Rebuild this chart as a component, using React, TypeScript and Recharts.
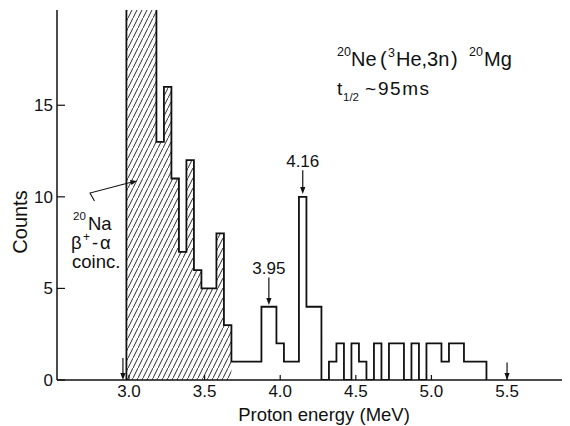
import { ComposedChart, Line, Area, XAxis, YAxis, ReferenceLine } from 'recharts';

const FONT = '"Liberation Sans", Arial, Helvetica, sans-serif';
const INK = '#111';

// histogram bins (MeV)
const binStart = 2.983;
const binWidth = 0.0496;

// counts per bin; the first four run off the top of the frame
const counts = [
  25, 25, 25, 25, 13, 16, 11, 7, 12, 6, 5, 5, 8, 3,
  1, 1, 1, 1, 4, 4, 2, 1, 1, 10, 4, 4, 0, 1, 2, 0,
  2, 1, 0, 2, 0, 2, 2, 0, 2, 0, 2, 2, 1, 2, 2, 1, 1, 1,
];
// leading bins that are 20Na beta+-alpha coincidences (hatched)
const hatchedBins = 14;

const xTicks = [3.0, 3.5, 4.0, 4.5, 5.0, 5.5];
const yTicks = [0, 5, 10, 15];

// peak markers: label, energy, arrow top and tip (counts)
const peakLabels = ['3.95', '4.16'];
const peakEnergy = [3.925, 4.149];
const peakArrowTop = [5.6, 11.45];
const peakArrowTip = [4.1, 10.15];

// range markers on the energy axis
const limitEnergy = [2.96, 5.5];
const limitArrowTop = [1.2, 0.95];

function buildRows() {
  const rows: Array<{ e: number; total: number; hatch: number | null }> = [
    { e: binStart, total: 0, hatch: 0 },
  ];
  counts.forEach((c, i) => {
    rows.push({
      e: binStart + i * binWidth,
      total: c,
      hatch: i < hatchedBins ? c : i === hatchedBins ? 0 : null,
    });
  });
  rows.push({ e: binStart + counts.length * binWidth, total: 0, hatch: null });
  return rows;
}

const rows = buildRows();

const ArrowShape = ({ x1, y1, x2, y2, text }: any) => {
  const dx = x2 - x1;
  const dy = y2 - y1;
  const len = Math.hypot(dx, dy) || 1;
  const ux = dx / len;
  const uy = dy / len;
  const hl = 7;
  const hw = 2.6;
  const bx = x2 - ux * hl;
  const by = y2 - uy * hl;
  const px = -uy * hw;
  const py = ux * hw;
  return (
    <g>
      <line x1={x1} y1={y1} x2={bx} y2={by} stroke={INK} strokeWidth={1.2} />
      <polygon points={`${x2},${y2} ${bx + px},${by + py} ${bx - px},${by - py}`} fill={INK} />
      {text && (
        <text x={x1} y={y1 - 3} textAnchor="middle" fontSize={17} fontFamily={FONT} fill={INK}>
          {text}
        </text>
      )}
    </g>
  );
};

export default function App() {
  return (
    <div style={{ position: 'relative', width: 562, height: 418, fontFamily: FONT }}>
      <ComposedChart
        width={562}
        height={418}
        data={rows}
        margin={{ top: 2, right: 2, bottom: 16, left: 0 }}
      >
        <defs>
          <pattern id="hatch" patternUnits="userSpaceOnUse" width="5" height="10">
            <path d="M-0.5,11 L5.5,-1" stroke={INK} strokeWidth={0.9} />
          </pattern>
        </defs>
        <XAxis
          dataKey="e"
          type="number"
          domain={[2.524, 5.903]}
          allowDataOverflow
          ticks={xTicks}
          interval={0}
          tickFormatter={(v: number) => v.toFixed(1)}
          tickSize={-5}
          tickMargin={10}
          height={30}
          axisLine={{ stroke: INK, strokeWidth: 1.5 }}
          tickLine={{ stroke: INK, strokeWidth: 1.2 }}
          tick={{ fill: INK, fontSize: 17, fontFamily: FONT }}
        />
        <XAxis
          xAxisId="top"
          orientation="top"
          type="number"
          domain={[2.524, 5.903]}
          allowDataOverflow
          ticks={xTicks}
          interval={0}
          tickSize={-6}
          height={0}
          axisLine={{ stroke: INK, strokeWidth: 1.2 }}
          tickLine={{ stroke: INK, strokeWidth: 1.2 }}
          tick={() => <g />}
        />
        <YAxis
          type="number"
          domain={[0, 20.2]}
          allowDataOverflow
          ticks={yTicks}
          interval={0}
          width={49}
          tickSize={-8}
          tickMargin={12}
          axisLine={{ stroke: INK, strokeWidth: 1.5 }}
          tickLine={{ stroke: INK, strokeWidth: 1.2 }}
          tick={{ fill: INK, fontSize: 17, fontFamily: FONT }}
        />
        <Area
          type="stepAfter"
          dataKey="hatch"
          stroke="none"
          fill="url(#hatch)"
          fillOpacity={1}
          isAnimationActive={false}
        />
        <Line
          type="stepAfter"
          dataKey="total"
          stroke={INK}
          strokeWidth={1.8}
          dot={false}
          isAnimationActive={false}
        />
        {peakLabels.map((label, i) => (
          <ReferenceLine
            key={label}
            segment={[
              { x: peakEnergy[i], y: peakArrowTop[i] },
              { x: peakEnergy[i], y: peakArrowTip[i] },
            ]}
            ifOverflow="visible"
            shape={(p: any) => <ArrowShape {...p} text={label} />}
          />
        ))}
        {limitEnergy.map((e, i) => (
          <ReferenceLine
            key={e}
            segment={[
              { x: e, y: limitArrowTop[i] },
              { x: e, y: 0 },
            ]}
            ifOverflow="visible"
            shape={(p: any) => <ArrowShape {...p} />}
          />
        ))}
      </ComposedChart>

      <svg
        width={562}
        height={418}
        style={{ position: 'absolute', left: 0, top: 0, pointerEvents: 'none' }}
        fontFamily={FONT}
        fill={INK}
      >
        {/* axis titles */}
        <text x={12} y={214} transform="rotate(-90 12 214)" textAnchor="middle" dominantBaseline="central" fontSize={20}>
          Counts
        </text>
        <text x={316} y={413} textAnchor="middle" fontSize={18.5}>
          Proton energy (MeV)
        </text>

        {/* reaction */}
        <text fontSize={20}>
          <tspan x={329} y={48} fontSize={12.5}>20</tspan>
          <tspan x={343} y={58}>Ne</tspan>
          <tspan x={372} y={58}>(</tspan>
          <tspan x={380} y={49} fontSize={12.5}>3</tspan>
          <tspan x={388} y={58}>He,3n</tspan>
          <tspan x={443} y={58}>)</tspan>
          <tspan x={461} y={48} fontSize={12.5}>20</tspan>
          <tspan x={476} y={58}>Mg</tspan>
        </text>
        <text fontSize={19}>
          <tspan x={329} y={87}>t</tspan>
          <tspan x={335} y={93} fontSize={11.5}>1/2</tspan>
          <tspan x={357} y={87}>~</tspan>
          <tspan x={370} y={87} letterSpacing={1.5}>95ms</tspan>
        </text>

        {/* 20Na coincidence note */}
        <text fontSize={18.5}>
          <tspan x={65} y={212} fontSize={11.5}>20</tspan>
          <tspan x={80} y={222}>Na</tspan>
        </text>
        <text fontSize={18.5}>
          <tspan x={63} y={241}>β</tspan>
          <tspan x={75} y={233} fontSize={12}>+</tspan>
          <tspan x={84} y={241}>-</tspan>
          <tspan x={92} y={241}>α</tspan>
        </text>
        <text x={64} y={260} fontSize={18.5}>coinc.</text>
        <polyline points="86.5,193 82,185 124,174" fill="none" stroke={INK} strokeWidth={1.1} />
        <polygon points="129,173 122,172 123.5,177" fill={INK} />
      </svg>
    </div>
  );
}
